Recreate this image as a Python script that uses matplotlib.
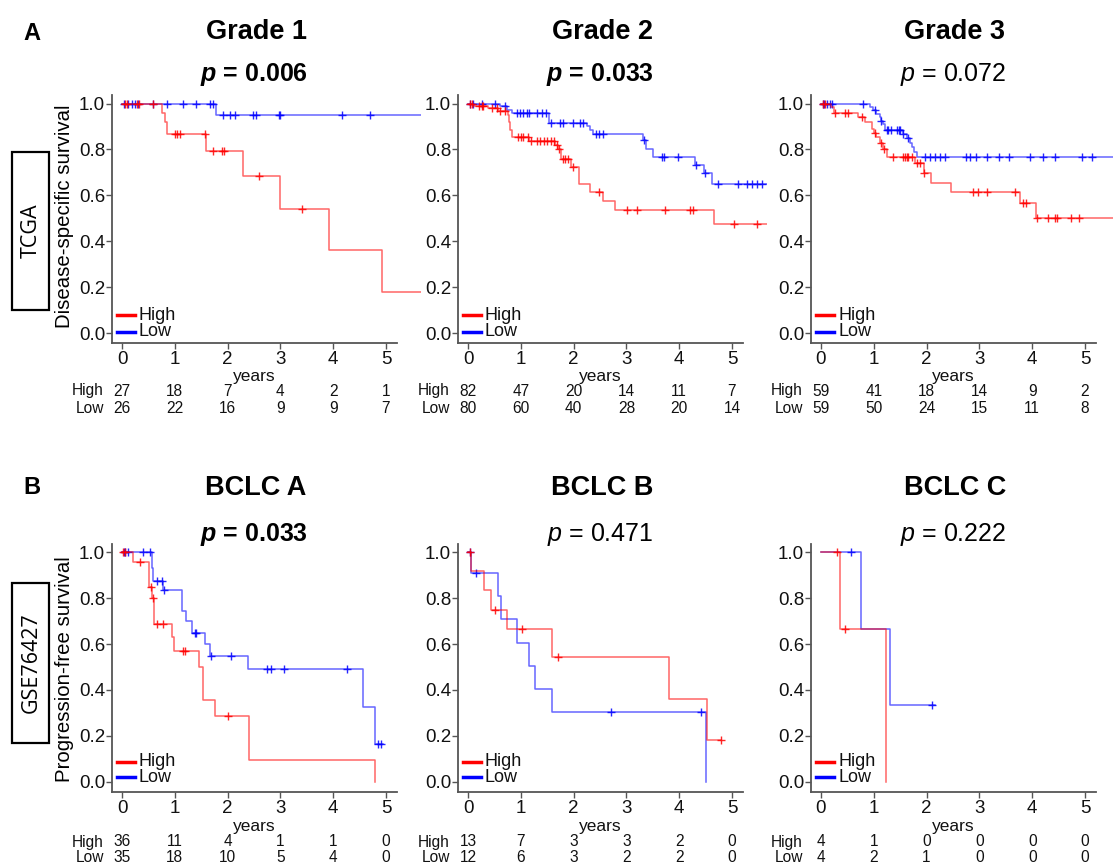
import numpy as np
import matplotlib
matplotlib.use('Agg')
import matplotlib.pyplot as plt
from matplotlib.lines import Line2D
from matplotlib.patches import Rectangle
from matplotlib import transforms

plt.rcParams['font.family'] = ['Liberation Sans', 'DejaVu Sans']
plt.rcParams['mathtext.fontset'] = 'custom'
plt.rcParams['mathtext.rm'] = 'Liberation Sans'
plt.rcParams['mathtext.it'] = 'Liberation Sans:italic'
plt.rcParams['mathtext.bf'] = 'Liberation Sans:bold'
plt.rcParams['mathtext.bfit'] = 'Liberation Sans:italic:bold'

# --- data: Kaplan-Meier steps (time, survival after step), censor times, curve end ---
# Grade 1
g1_high_t = [0, 0.76, 0.81, 0.85, 1.60, 2.30, 2.99, 3.92, 4.92]
g1_high_s = [1.0, 0.96, 0.92, 0.865, 0.795, 0.682, 0.542, 0.362, 0.18]
g1_high_c = [0.06, 0.09, 0.28, 0.33, 0.59, 1.0, 1.04, 1.10, 1.57, 1.73, 1.89, 1.93, 2.60, 3.40]
g1_low_t = [0, 1.78]
g1_low_s = [1.0, 0.948]
g1_low_c = [0.03, 0.12, 0.18, 0.25, 0.31, 0.59, 0.85, 1.16, 1.41, 1.67, 1.73, 1.91, 2.05,
            2.14, 2.49, 2.54, 2.98, 3.0, 4.16, 4.70]
# Grade 2
g2_high_t = [0, 0.10, 0.38, 0.57, 0.76, 0.78, 0.80, 0.83, 1.16, 1.65, 1.70, 1.76, 1.95,
             2.11, 2.31, 2.56, 2.78, 4.65]
g2_high_s = [1.0, 0.99, 0.98, 0.968, 0.95, 0.92, 0.885, 0.855, 0.838, 0.82, 0.80, 0.757,
             0.725, 0.65, 0.615, 0.575, 0.535, 0.475]
g2_high_c = [0.03, 0.07, 0.20, 0.26, 0.29, 0.45, 0.54, 0.61, 0.70, 0.95, 1.01, 1.05, 1.14,
             1.20, 1.30, 1.36, 1.43, 1.49, 1.58, 1.62, 1.68, 1.72, 1.80, 1.84, 1.90, 1.99,
             2.48, 3.02, 3.21, 3.74, 4.20, 4.27, 5.03, 5.47]
g2_low_t = [0, 0.61, 0.73, 0.83, 1.54, 2.25, 2.31, 2.37, 3.32, 3.38, 3.51, 4.30, 4.47, 4.63]
g2_low_s = [1.0, 0.99, 0.97, 0.957, 0.917, 0.90, 0.885, 0.868, 0.84, 0.80, 0.768, 0.732,
            0.696, 0.65]
g2_low_c = [0.04, 0.10, 0.26, 0.51, 0.70, 0.92, 0.99, 1.04, 1.12, 1.16, 1.30, 1.40, 1.48,
            1.58, 1.74, 1.80, 1.99, 2.12, 2.17, 2.43, 2.49, 2.56, 3.34, 3.68, 3.72, 3.98,
            4.31, 4.48, 4.74, 5.12, 5.28, 5.37, 5.47, 5.56]
# Grade 3
g3_high_t = [0, 0.18, 0.25, 0.71, 0.84, 0.96, 1.0, 1.05, 1.12, 1.17, 1.25, 1.78, 1.95,
             2.08, 2.47, 3.76, 4.08]
g3_high_s = [1.0, 0.985, 0.96, 0.94, 0.92, 0.89, 0.87, 0.855, 0.83, 0.80, 0.765, 0.74,
             0.695, 0.655, 0.615, 0.565, 0.50]
g3_high_c = [0.04, 0.08, 0.27, 0.46, 0.52, 0.77, 1.03, 1.13, 1.20, 1.37, 1.55, 1.59, 1.62,
             1.65, 1.72, 1.81, 1.87, 1.96, 2.88, 2.97, 3.14, 3.67, 3.82, 3.89, 4.10, 4.30,
             4.43, 4.47, 4.74, 4.88]
g3_low_t = [0, 0.93, 0.99, 1.04, 1.11, 1.13, 1.18, 1.21, 1.55, 1.62, 1.68, 1.73, 1.77, 1.81]
g3_low_s = [1.0, 0.985, 0.97, 0.955, 0.94, 0.925, 0.91, 0.883, 0.865, 0.85, 0.83, 0.81,
            0.79, 0.768]
g3_low_c = [0.03, 0.05, 0.11, 0.17, 0.20, 0.80, 1.03, 1.13, 1.25, 1.27, 1.33, 1.43, 1.47,
            1.50, 1.55, 1.65, 1.97, 2.06, 2.16, 2.25, 2.35, 2.75, 2.82, 2.93, 3.14, 3.38,
            3.56, 3.96, 4.20, 4.43, 4.94, 5.13]
# BCLC A
ba_high_t = [0, 0.21, 0.52, 0.56, 0.61, 0.94, 0.99, 1.45, 1.53, 1.76, 2.41, 4.80]
ba_high_s = [1.0, 0.955, 0.85, 0.80, 0.685, 0.63, 0.57, 0.50, 0.355, 0.285, 0.095, 0.0]
ba_high_c = [0.01, 0.06, 0.35, 0.55, 0.58, 0.66, 0.78, 1.16, 1.19, 2.00]
ba_low_t = [0, 0.56, 0.58, 0.78, 1.14, 1.22, 1.32, 1.57, 1.67, 2.39, 4.56, 4.80]
ba_low_s = [1.0, 0.93, 0.875, 0.835, 0.745, 0.70, 0.65, 0.60, 0.55, 0.49, 0.325, 0.165]
ba_low_c = [0.03, 0.06, 0.12, 0.40, 0.53, 0.66, 0.75, 0.79, 1.38, 1.41, 1.68, 2.06, 2.74,
            2.83, 3.07, 4.27, 4.85, 4.90]
# BCLC B
bb_high_t = [0, 0.06, 0.30, 0.44, 0.74, 1.59, 3.81, 4.53]
bb_high_s = [1.0, 0.917, 0.833, 0.75, 0.667, 0.545, 0.363, 0.182]
bb_high_c = [0.03, 0.52, 1.03, 1.70, 4.80]
bb_low_t = [0, 0.05, 0.57, 0.63, 0.92, 1.15, 1.26, 1.59, 4.51]
bb_low_s = [1.0, 0.909, 0.808, 0.707, 0.606, 0.505, 0.404, 0.303, 0.0]
bb_low_c = [0.03, 0.15, 2.71, 4.42]
# BCLC C
bc_high_t = [0, 0.36, 1.23]
bc_high_s = [1.0, 0.667, 0.0]
bc_high_c = [0.31, 0.46]
bc_low_t = [0, 0.75, 1.31]
bc_low_s = [1.0, 0.667, 0.333]
bc_low_c = [0.57, 2.11]

curve_end = {'g1': (5.66, 5.66), 'g2': (5.66, 5.66), 'g3': (5.66, 5.66),
             'ba': (4.80, 4.94), 'bb': (4.80, 4.51), 'bc': (1.23, 2.16)}

# numbers at risk at 0..5 years
risk_high = {'g1': [27, 18, 7, 4, 2, 1], 'g2': [82, 47, 20, 14, 11, 7], 'g3': [59, 41, 18, 14, 9, 2],
             'ba': [36, 11, 4, 1, 1, 0], 'bb': [13, 7, 3, 3, 2, 0], 'bc': [4, 1, 0, 0, 0, 0]}
risk_low = {'g1': [26, 22, 16, 9, 9, 7], 'g2': [80, 60, 40, 28, 20, 14], 'g3': [59, 50, 24, 15, 11, 8],
            'ba': [35, 18, 10, 5, 4, 0], 'bb': [12, 6, 3, 2, 2, 0], 'bc': [4, 2, 1, 0, 0, 0]}

titles = ['Grade 1', 'Grade 2', 'Grade 3', 'BCLC A', 'BCLC B', 'BCLC C']
p_values = ['0.006', '0.033', '0.072', '0.033', '0.471', '0.222']
p_bold = [True, True, False, True, False, False]
years_ticks = [0, 1, 2, 3, 4, 5]

curves = {
    'g1': (g1_high_t, g1_high_s, g1_high_c, g1_low_t, g1_low_s, g1_low_c),
    'g2': (g2_high_t, g2_high_s, g2_high_c, g2_low_t, g2_low_s, g2_low_c),
    'g3': (g3_high_t, g3_high_s, g3_high_c, g3_low_t, g3_low_s, g3_low_c),
    'ba': (ba_high_t, ba_high_s, ba_high_c, ba_low_t, ba_low_s, ba_low_c),
    'bb': (bb_high_t, bb_high_s, bb_high_c, bb_low_t, bb_low_s, bb_low_c),
    'bc': (bc_high_t, bc_high_s, bc_high_c, bc_low_t, bc_low_s, bc_low_c),
}
keys = ['g1', 'g2', 'g3', 'ba', 'bb', 'bc']

# --- layout (pixels) ---
W, H = 1113, 866
fx = lambda px: px / W
fy = lambda py: 1 - py / H

col_x0 = [122, 468, 821]
row_y1 = [103.5, 552]
row_y0 = [333, 782]
XMIN, XMAX = -0.19, 5.66
YMIN, YMAX = -0.044, 1.036
px_per_year = 52.8
px_per_unit = 229.5
row_risk = [(391, 409), (842, 858)]
row_years = [376, 827]
row_title = [32, 488]
row_p = [75, 535]
row_leg = [(315, 332), (762, 777)]

RED = '#ff0000'
BLUE = '#0000ff'
SPINE = '#555555'

fig = plt.figure(figsize=(W / 100, H / 100), dpi=100)


def step_value(t, s, x):
    idx = np.searchsorted(np.asarray(t), x, side='right') - 1
    return np.asarray(s)[idx]


def draw_km(ax, t, s, c, end, color):
    xs = list(t) + [end]
    ys = list(s) + [s[-1]]
    ax.step(xs, ys, where='post', color=color, lw=1.1, alpha=0.6)
    cy = [step_value(t, s, v) for v in c]
    ax.plot(c, cy, ls='none', marker='+', ms=6, mew=1.0, color=color, alpha=0.85)


for i, key in enumerate(keys):
    r, col = divmod(i, 3)
    x0 = col_x0[col]
    left = x0 + XMIN * px_per_year
    right = x0 + XMAX * px_per_year
    top = row_y1[r] - (YMAX - 1) * px_per_unit
    bottom = row_y0[r] - YMIN * px_per_unit
    ax = fig.add_axes([fx(left), fy(bottom), (right - left) / W, (bottom - top) / H])
    ax.set_xlim(XMIN, XMAX)
    ax.set_ylim(YMIN, YMAX)
    ax.patch.set_visible(False)

    ht, hs, hc, lt, ls_, lc = curves[key]
    h_end, l_end = curve_end[key]
    draw_km(ax, lt, ls_, lc, l_end, BLUE)
    draw_km(ax, ht, hs, hc, h_end, RED)

    for side in ['top', 'right']:
        ax.spines[side].set_visible(False)
    for side in ['left', 'bottom']:
        ax.spines[side].set_color(SPINE)
        ax.spines[side].set_linewidth(1.3)
    ax.spines['bottom'].set_bounds(XMIN, 5.21)
    ax.set_xticks(years_ticks)
    ax.set_yticks([0.0, 0.2, 0.4, 0.6, 0.8, 1.0])
    ax.set_yticklabels(['0.0', '0.2', '0.4', '0.6', '0.8', '1.0'])
    ax.tick_params(axis='both', colors=SPINE, labelcolor='#111111', labelsize=13.5,
                   length=4, width=1.0, direction='out')
    ax.tick_params(axis='y', pad=1)
    ax.tick_params(axis='x', pad=2)

    # risk table and axis label
    blend = transforms.blended_transform_factory(ax.transData, fig.transFigure)
    yh, yl = row_risk[r]
    for j, yr in enumerate(years_ticks):
        ax.text(yr, fy(yh), str(risk_high[key][j]), transform=blend, ha='center', va='center',
                fontsize=11.2, color='#111111', clip_on=False)
        ax.text(yr, fy(yl), str(risk_low[key][j]), transform=blend, ha='center', va='center',
                fontsize=11.2, color='#111111', clip_on=False)
    fig.text(fx(x0 - 18), fy(yh), 'High', ha='right', va='center', fontsize=11.2, color='#111111')
    fig.text(fx(x0 - 18), fy(yl), 'Low', ha='right', va='center', fontsize=11.2, color='#111111')
    ax.text(2.5, fy(row_years[r]), 'years', transform=blend, ha='center', va='center',
            fontsize=12.5, color='#111111', clip_on=False)

    # legend drawn at fixed positions
    lh, ll = row_leg[r]
    for yy, colr, lab in [(lh, RED, 'High'), (ll, BLUE, 'Low')]:
        fig.add_artist(Line2D([fx(x0 - 5), fx(x0 + 13)], [fy(yy), fy(yy)], color=colr, lw=2.5,
                              transform=fig.transFigure))
        fig.text(fx(x0 + 17), fy(yy), lab, ha='left', va='center', fontsize=13, color='#111111')

    # titles
    cx = x0 + 134
    fig.text(fx(cx), fy(row_title[r]), titles[i], ha='center', va='center', fontsize=19.5,
             fontweight='bold')
    if p_bold[i]:
        fig.text(fx(cx - 2), fy(row_p[r]), r'$\mathbfit{p}$ = ' + p_values[i], ha='center',
                 va='center', fontsize=18, fontweight='bold')
    else:
        fig.text(fx(cx - 2), fy(row_p[r]), r'$\mathit{p}$ = ' + p_values[i], ha='center',
                 va='center', fontsize=18)

# panel letters
fig.text(fx(32), fy(33), 'A', ha='center', va='center', fontsize=17, fontweight='bold')
fig.text(fx(32), fy(487), 'B', ha='center', va='center', fontsize=17, fontweight='bold')

# y axis labels
fig.text(fx(65), fy(216), 'Disease-specific survival', rotation=90, ha='center', va='center',
         fontsize=14.7)
fig.text(fx(65), fy(669), 'Progression-free survival', rotation=90, ha='center', va='center',
         fontsize=14.7)

# cohort boxes
for (ytop, ybot, label) in [(152, 310, 'TCGA'), (583, 743, 'GSE76427')]:
    fig.add_artist(Rectangle((fx(12), fy(ybot)), 37 / W, (ybot - ytop) / H, fill=False,
                             lw=1.6, edgecolor='black', transform=fig.transFigure))
    fig.text(fx(31), fy((ytop + ybot) / 2), label, rotation=90, ha='center', va='center',
             fontsize=15.5, family=['Open Sans', 'DejaVu Sans'])

fig.savefig('out.png', dpi=100)
